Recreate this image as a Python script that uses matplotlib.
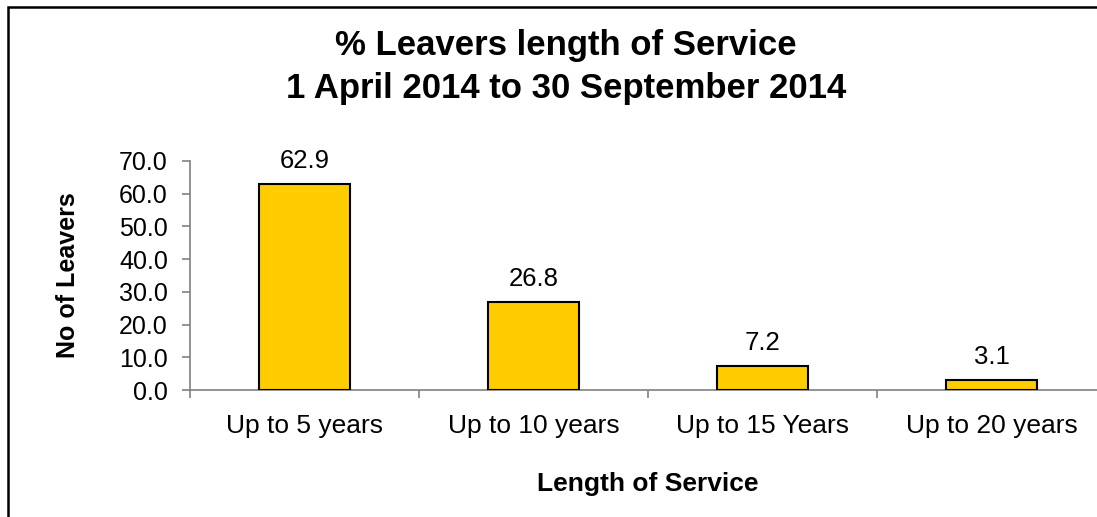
import matplotlib.pyplot as plt
from matplotlib.patches import Rectangle

plt.rcParams['font.family'] = ['Liberation Sans', 'DejaVu Sans']

categories = ['Up to 5 years', 'Up to 10 years', 'Up to 15 Years', 'Up to 20 years']
leavers = [62.9, 26.8, 7.2, 3.1]
yticks = [0, 10, 20, 30, 40, 50, 60, 70]

fig = plt.figure(figsize=(10.97, 5.17), dpi=100)
ax = fig.add_axes([190 / 1097, 1 - 390 / 517, 916 / 1097, 229 / 517])

x = list(range(len(categories)))
ax.bar(x, leavers, width=0.4, color='#FFCC00', edgecolor='black', linewidth=1.5, zorder=3)
for xi, v in zip(x, leavers):
    ax.annotate(f'{v:.1f}', (xi, v), xytext=(0, 8), textcoords='offset points',
                ha='center', va='bottom', fontsize=18.5)

ax.set_xlim(-0.5, len(categories) - 0.5)
ax.set_ylim(0, 70)
ax.set_yticks(yticks)
ax.set_yticklabels([f'{t:.1f}' for t in yticks])
ax.set_xticks(x)
ax.set_xticklabels(categories)
ax.set_xticks([i - 0.5 for i in range(len(categories) + 1)], minor=True)

ax.tick_params(axis='x', which='major', length=0, pad=17, labelsize=19)
ax.tick_params(axis='x', which='minor', length=6, width=1.2, color='#808080', direction='out')
ax.tick_params(axis='y', length=6, width=1.2, color='#808080', pad=10, labelsize=18)

for side in ['top', 'right']:
    ax.spines[side].set_visible(False)
for side in ['left', 'bottom']:
    ax.spines[side].set_color('#808080')
    ax.spines[side].set_linewidth(1.2)

ax.set_xlabel('Length of Service', fontsize=19, fontweight='bold', labelpad=25)
ax.set_ylabel('No of Leavers', fontsize=18, fontweight='bold', labelpad=28)

fig.text(0.516, 1 - 67 / 517, '% Leavers length of Service\n1 April 2014 to 30 September 2014',
         ha='center', va='center', fontsize=25, fontweight='bold', linespacing=1.42)

# outer frame of the chart area
fig.patches.append(Rectangle((8 / 1097, -0.1), 1.2, 1 - 7 / 517 + 0.1, transform=fig.transFigure,
                             fill=False, edgecolor='black', linewidth=1.8))

fig.savefig('out.png', dpi=100)
